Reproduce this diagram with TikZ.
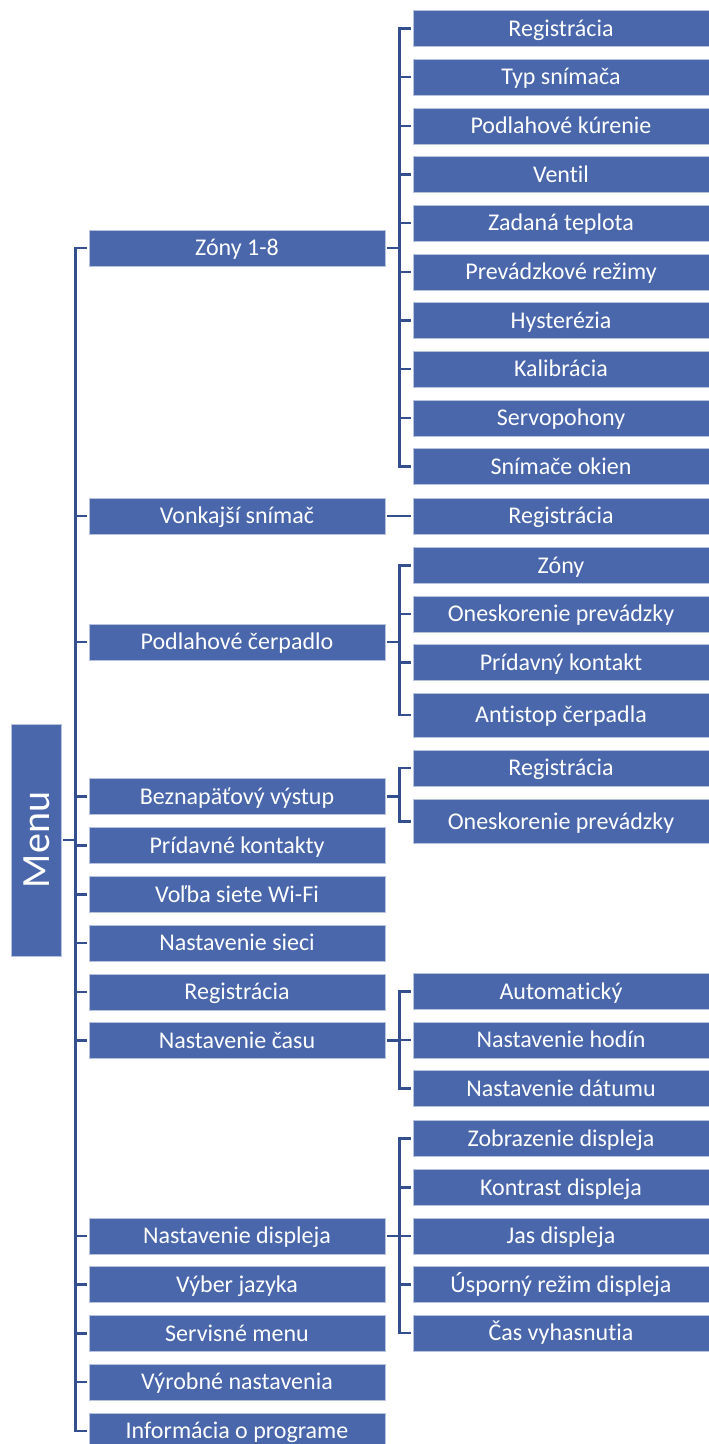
\documentclass[tikz,border=0pt]{standalone}
\usepackage{fontspec}
\setmainfont{Carlito}[Ligatures=NoCommon]
\usepackage{xcolor}
\usetikzlibrary{positioning}
\definecolor{boxblue}{RGB}{74,103,172}
\definecolor{lineblue}{RGB}{52,79,142}
\tikzset{
    entry/.style={rectangle, fill=boxblue, draw=white!60!boxblue, line width=0.6pt, % every blue box
        minimum width=296pt, minimum height=36pt, inner sep=0pt,
        text=white, font=\fontsize{24}{28}\selectfont, text height=17pt, text depth=2pt},
    tall/.style={minimum height=44pt}, % the two boxes that are a bit higher
    menubox/.style={entry, rotate=90, minimum width=232pt, minimum height=50pt,
        font=\fontsize{40}{44}\selectfont, text height=27pt, text depth=0pt},
    treeline/.style={draw=lineblue, line width=2.4pt, shorten <=2pt, shorten >=2pt},
    elbow/.style={to path={-- ++(14,0) |- (\tikztotarget)}}, % out, down, across
}

\begin{document}
\begin{tikzpicture}[x=1pt, y=-1pt]
    \useasboundingbox (0,0) rectangle (709,1444);

    \node[menubox] (menu) at (36,840) {Menu};

    % Druha uroven
    \node[entry] (zony) at (237,248) {Zóny 1-8};
    \node[entry] (vonk) at (237,516) {Vonkajší snímač};
    \node[entry] (cerp) at (237,642) {Podlahové čerpadlo};
    \node[entry] (bezn) at (237,796.5) {Beznapäťový výstup};
    \node[entry] (kont) at (237,845.5) {Prídavné kontakty};
    \node[entry] (wifi) at (237,894.5) {Voľba siete Wi-Fi};
    \node[entry] (siet) at (237,943) {Nastavenie sieci};
    \node[entry] (regm) at (237,992) {Registrácia};
    \node[entry] (cas) at (237,1040.5) {Nastavenie času};
    \node[entry] (disp) at (237,1236) {Nastavenie displeja};
    \node[entry] (jazyk) at (237,1284.5) {Výber jazyka};
    \node[entry] (serv) at (237,1333.5) {Servisné menu};
    \node[entry] (vyr) at (237,1382) {Výrobné nastavenia};
    \node[entry] (info) at (237,1431) {Informácia o programe};

    % Treti uroven - zony
    \node[entry] (z1) at (561,28.5) {Registrácia};
    \node[entry] (z2) at (561,77.2) {Typ snímača};
    \node[entry] (z3) at (561,125.8) {Podlahové kúrenie};
    \node[entry] (z4) at (561,174.5) {Ventil};
    \node[entry] (z5) at (561,223.2) {Zadaná teplota};
    \node[entry] (z6) at (561,271.8) {Prevádzkové režimy};
    \node[entry] (z7) at (561,320.5) {Hysterézia};
    \node[entry] (z8) at (561,369.2) {Kalibrácia};
    \node[entry] (z9) at (561,417.8) {Servopohony};
    \node[entry] (z10) at (561,466.5) {Snímače okien};

    \node[entry] (v1) at (561,516) {Registrácia};

    \node[entry] (c1) at (561,565.5) {Zóny};
    \node[entry] (c2) at (561,614) {Oneskorenie prevádzky};
    \node[entry] (c3) at (561,662.5) {Prídavný kontakt};
    \node[entry, tall] (c4) at (561,715) {Antistop čerpadla};

    \node[entry] (b1) at (561,768) {Registrácia};
    \node[entry, tall] (b2) at (561,821.5) {Oneskorenie prevádzky};

    \node[entry] (t1) at (561,991.5) {Automatický};
    \node[entry] (t2) at (561,1040) {Nastavenie hodín};
    \node[entry] (t3) at (561,1088.5) {Nastavenie dátumu};

    \node[entry] (d1) at (561,1138.5) {Zobrazenie displeja};
    \node[entry] (d2) at (561,1187.5) {Kontrast displeja};
    \node[entry] (d3) at (561,1236) {Jas displeja};
    \node[entry] (d4) at (561,1284.5) {Úsporný režim displeja};
    \node[entry] (d5) at (561,1333) {Čas vyhasnutia};

    % Spojnice
    \path[treeline]
    (menu.south) edge[elbow] (zony.west)
        edge[elbow] (vonk.west)
        edge[elbow] (cerp.west)
        edge[elbow] (bezn.west)
        edge[elbow] (kont.west)
        edge[elbow] (wifi.west)
        edge[elbow] (siet.west)
        edge[elbow] (regm.west)
        edge[elbow] (cas.west)
        edge[elbow] (disp.west)
        edge[elbow] (jazyk.west)
        edge[elbow] (serv.west)
        edge[elbow] (vyr.west)
        edge[elbow] (info.west)
    (zony.east) edge[elbow] (z1.west)
        edge[elbow] (z2.west)
        edge[elbow] (z3.west)
        edge[elbow] (z4.west)
        edge[elbow] (z5.west)
        edge[elbow] (z6.west)
        edge[elbow] (z7.west)
        edge[elbow] (z8.west)
        edge[elbow] (z9.west)
        edge[elbow] (z10.west)
    (vonk.east) edge (v1.west)
    (cerp.east) edge[elbow] (c1.west)
        edge[elbow] (c2.west)
        edge[elbow] (c3.west)
        edge[elbow] (c4.west)
    (bezn.east) edge[elbow] (b1.west)
        edge[elbow] (b2.west)
    (cas.east) edge[elbow] (t1.west)
        edge[elbow] (t2.west)
        edge[elbow] (t3.west)
    (disp.east) edge[elbow] (d1.west)
        edge[elbow] (d2.west)
        edge[elbow] (d3.west)
        edge[elbow] (d4.west)
        edge[elbow] (d5.west);
\end{tikzpicture}
\end{document}
